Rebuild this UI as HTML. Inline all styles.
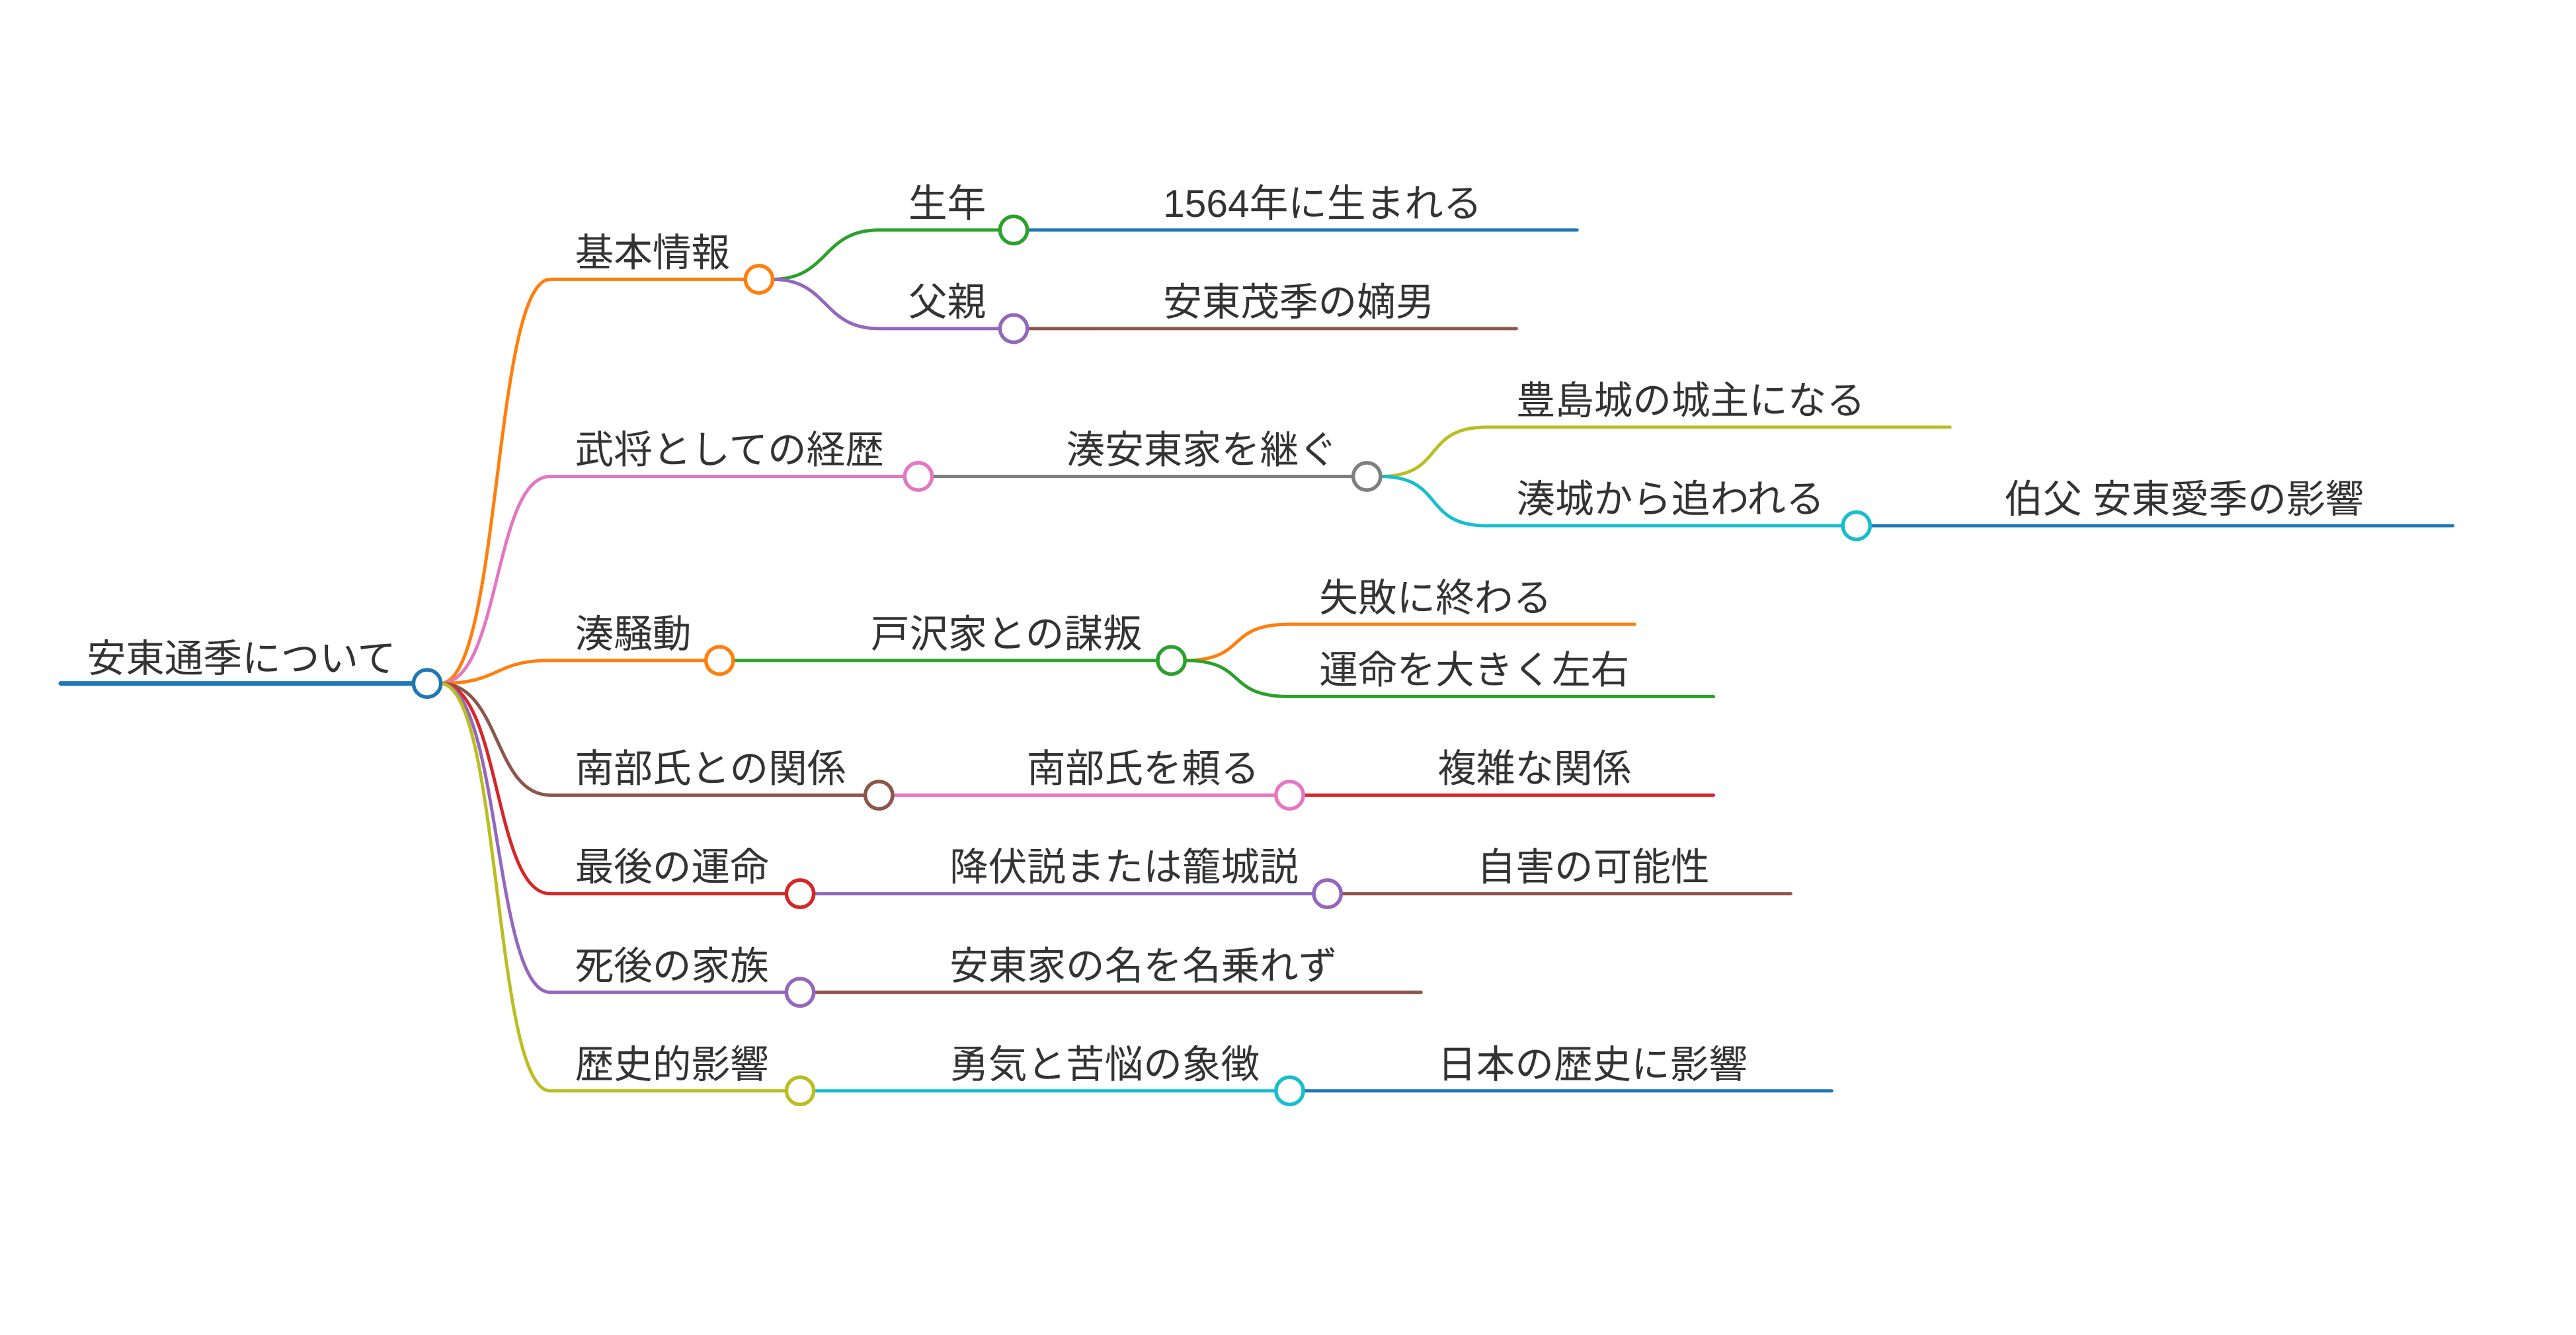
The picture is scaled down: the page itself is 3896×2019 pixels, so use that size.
<!DOCTYPE html>
<html><head><meta charset="utf-8">
<style>
html,body{margin:0;padding:0;background:#fff;}
svg{display:block;}
text{font-family:"Liberation Sans","Noto Sans CJK JP",sans-serif;font-size:23.6px;fill:#333;}
</style></head>
<body>
<svg width="3896" height="2019" viewBox="0 0 1568 812.6" preserveAspectRatio="none" xmlns="http://www.w3.org/2000/svg">
<g fill="none" stroke-linecap="round">
<line x1="37" y1="416" x2="252" y2="416" stroke="#1f77b4" stroke-width="2.8"/>
<path d="M268,416 C305,416 300,170 335,170 L454,170" stroke="#ff7f0e" stroke-width="2"/>
<path d="M268,416 C305,416 300,290 335,290 L551,290" stroke="#e377c2" stroke-width="2"/>
<path d="M268,416 C305,416 300,402 335,402 L430,402" stroke="#ff7f0e" stroke-width="2"/>
<path d="M268,416 C305,416 300,484 335,484 L527,484" stroke="#8c564b" stroke-width="2"/>
<path d="M268,416 C305,416 300,544 335,544 L479,544" stroke="#d62728" stroke-width="2"/>
<path d="M268,416 C305,416 300,604 335,604 L479,604" stroke="#9467bd" stroke-width="2"/>
<path d="M268,416 C305,416 300,664 335,664 L479,664" stroke="#bcbd22" stroke-width="2"/>
<path d="M470,170 C505,170 500,140 535,140 L609,140" stroke="#2ca02c" stroke-width="2"/>
<path d="M470,170 C505,170 500,200 535,200 L609,200" stroke="#9467bd" stroke-width="2"/>
<line x1="625" y1="140" x2="960" y2="140" stroke="#1f77b4" stroke-width="2"/>
<line x1="625" y1="200" x2="923" y2="200" stroke="#8c564b" stroke-width="2"/>
<line x1="567" y1="290" x2="824" y2="290" stroke="#7f7f7f" stroke-width="2"/>
<path d="M840,290 C880,290 865,260 905,260 L1187,260" stroke="#bcbd22" stroke-width="2"/>
<path d="M840,290 C880,290 865,320 905,320 L1122,320" stroke="#17becf" stroke-width="2"/>
<line x1="1138" y1="320" x2="1493" y2="320" stroke="#1f77b4" stroke-width="2"/>
<line x1="446" y1="402" x2="705" y2="402" stroke="#2ca02c" stroke-width="2"/>
<path d="M721,402 C760,402 745,380 785,380 L995,380" stroke="#ff7f0e" stroke-width="2"/>
<path d="M721,402 C760,402 745,424 785,424 L1043,424" stroke="#2ca02c" stroke-width="2"/>
<line x1="543" y1="484" x2="777" y2="484" stroke="#e377c2" stroke-width="2"/>
<line x1="793" y1="484" x2="1043" y2="484" stroke="#d62728" stroke-width="2"/>
<line x1="495" y1="544" x2="800" y2="544" stroke="#9467bd" stroke-width="2"/>
<line x1="816" y1="544" x2="1090" y2="544" stroke="#8c564b" stroke-width="2"/>
<line x1="495" y1="604" x2="865" y2="604" stroke="#8c564b" stroke-width="2"/>
<line x1="495" y1="664" x2="777" y2="664" stroke="#17becf" stroke-width="2"/>
<line x1="793" y1="664" x2="1115" y2="664" stroke="#1f77b4" stroke-width="2"/>
</g>
<g fill="#fff" stroke-width="2.2">
<circle cx="260" cy="416" r="8.3" stroke="#1f77b4"/>
<circle cx="462" cy="170" r="8.3" stroke="#ff7f0e"/>
<circle cx="559" cy="290" r="8.3" stroke="#e377c2"/>
<circle cx="438" cy="402" r="8.3" stroke="#ff7f0e"/>
<circle cx="535" cy="484" r="8.3" stroke="#8c564b"/>
<circle cx="487" cy="544" r="8.3" stroke="#d62728"/>
<circle cx="487" cy="604" r="8.3" stroke="#9467bd"/>
<circle cx="487" cy="664" r="8.3" stroke="#bcbd22"/>
<circle cx="617" cy="140" r="8.3" stroke="#2ca02c"/>
<circle cx="617" cy="200" r="8.3" stroke="#9467bd"/>
<circle cx="832" cy="290" r="8.3" stroke="#7f7f7f"/>
<circle cx="1130" cy="320" r="8.3" stroke="#17becf"/>
<circle cx="713" cy="402" r="8.3" stroke="#2ca02c"/>
<circle cx="785" cy="484" r="8.3" stroke="#e377c2"/>
<circle cx="808" cy="544" r="8.3" stroke="#9467bd"/>
<circle cx="785" cy="664" r="8.3" stroke="#17becf"/>
</g>
<g>
<text x="53" y="409">安東通季について</text>
<text x="350" y="162">基本情報</text>
<text x="350" y="282">武将としての経歴</text>
<text x="350" y="394">湊騒動</text>
<text x="350" y="476">南部氏との関係</text>
<text x="350" y="536">最後の運命</text>
<text x="350" y="596">死後の家族</text>
<text x="350" y="656">歴史的影響</text>
<text x="553" y="132">生年</text>
<text x="553" y="192">父親</text>
<text x="708" y="132">1564年に生まれる</text>
<text x="708" y="192">安東茂季の嫡男</text>
<text x="649" y="282">湊安東家を継ぐ</text>
<text x="923" y="252">豊島城の城主になる</text>
<text x="923" y="312">湊城から追われる</text>
<text x="1220" y="312">伯父 安東愛季の影響</text>
<text x="530" y="394">戸沢家との謀叛</text>
<text x="803" y="372">失敗に終わる</text>
<text x="803" y="416">運命を大きく左右</text>
<text x="625" y="476">南部氏を頼る</text>
<text x="875" y="476">複雑な関係</text>
<text x="578" y="536">降伏説または籠城説</text>
<text x="899" y="536">自害の可能性</text>
<text x="578" y="596">安東家の名を名乗れず</text>
<text x="578" y="656">勇気と苦悩の象徴</text>
<text x="875" y="656">日本の歴史に影響</text>
</g>
</svg>
</body></html>
